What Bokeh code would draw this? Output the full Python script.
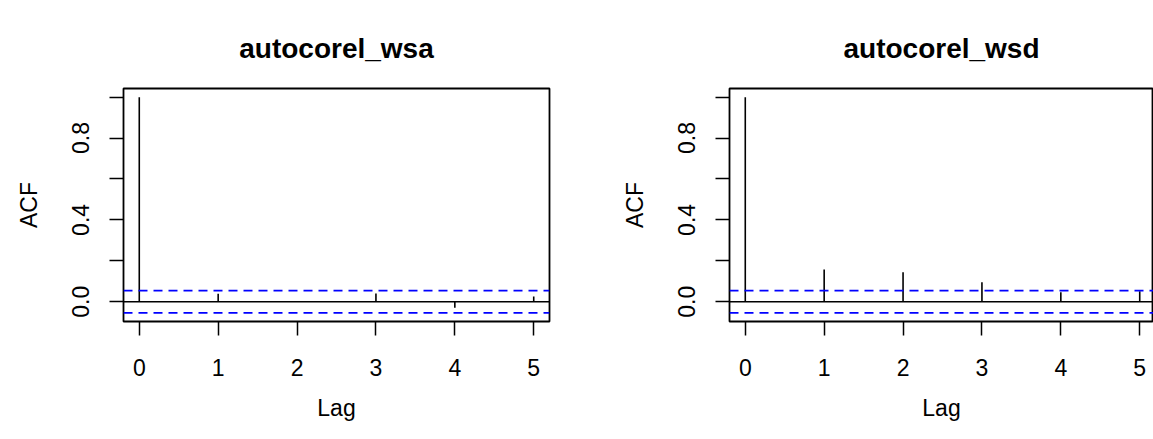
from bokeh.plotting import figure
from bokeh.layouts import row
from bokeh.models import Range1d, FixedTicker, Span, Title
from bokeh.embed import file_html
from bokeh.resources import INLINE

# ---- data ----
lags = [0, 1, 2, 3, 4, 5]
acf_wsa = [1.0, 0.039, 0.003, 0.040, -0.029, 0.026]
acf_wsd = [1.0, 0.157, 0.144, 0.095, 0.046, 0.051]
conf_limit = 0.0545
titles = ["autocorel_wsa", "autocorel_wsd"]
x_ticks = [0, 1, 2, 3, 4, 5]
y_ticks = [0.0, 0.2, 0.4, 0.6, 0.8, 1.0]
y_tick_labels = {0.0: "0.0", 0.2: "", 0.4: "0.4", 0.6: "", 0.8: "0.8", 1.0: ""}

FONT = "Liberation Sans"
X_START, X_END = -0.2, 5.2
Y_START, Y_END = -0.0967, 1.0422


def make_panel(title, values, width, border_right, frame_w_full=426):
    frame_w = width - 123 - border_right
    x_end = X_START + (X_END - X_START) * frame_w / frame_w_full
    p = figure(width=width, height=439, output_backend="svg", toolbar_location=None,
               x_range=Range1d(X_START, x_end), y_range=Range1d(Y_START, Y_END),
               min_border_left=123, min_border_right=border_right,
               min_border_top=88, min_border_bottom=118)
    p.title = Title(text=title, text_font=FONT, text_font_size="28px",
                    text_font_style="bold", align="center", text_color="black",
                    standoff=50)
    p.background_fill_color = "white"
    p.border_fill_color = "white"
    p.outline_line_color = "black"
    p.outline_line_width = 1.8
    p.grid.visible = False

    xa = p.xaxis[0]
    xa.ticker = FixedTicker(ticks=x_ticks)
    xa.axis_label = "Lag"
    ya = p.yaxis[0]
    ya.ticker = FixedTicker(ticks=y_ticks)
    ya.major_label_overrides = y_tick_labels
    ya.major_label_orientation = "vertical"
    ya.axis_label = "ACF"
    for ax in (xa, ya):
        ax.axis_line_color = None
        ax.major_tick_line_color = "black"
        ax.major_tick_line_width = 1.5
        ax.major_tick_out = 14
        ax.major_tick_in = 0
        ax.minor_tick_line_color = None
        ax.major_label_text_font = FONT
        ax.major_label_text_font_size = "23px"
        ax.major_label_text_color = "black"
        ax.axis_label_text_font = FONT
        ax.axis_label_text_font_size = "23px"
        ax.axis_label_text_font_style = "normal"
        ax.axis_label_text_color = "black"
    xa.major_label_standoff = 23
    xa.axis_label_standoff = 16
    ya.major_label_standoff = 20
    ya.axis_label_standoff = 28

    # zero line and confidence limits
    p.add_layout(Span(location=0, dimension="width", line_color="black", line_width=1.6))
    for c in (conf_limit, -conf_limit):
        p.add_layout(Span(location=c, dimension="width", line_color="#0000FF",
                          line_width=1.8, line_dash="9 6"))
    # ACF spikes
    p.segment(x0=lags, y0=[0] * len(lags), x1=lags, y1=values,
              line_color="black", line_width=1.6)
    return p


p1 = make_panel(titles[0], acf_wsa, 606, 57)
p2 = make_panel(titles[1], acf_wsd, 547, 0)
layout = row(p1, p2, spacing=0)

open("out.html", "w").write(file_html(layout, INLINE))
